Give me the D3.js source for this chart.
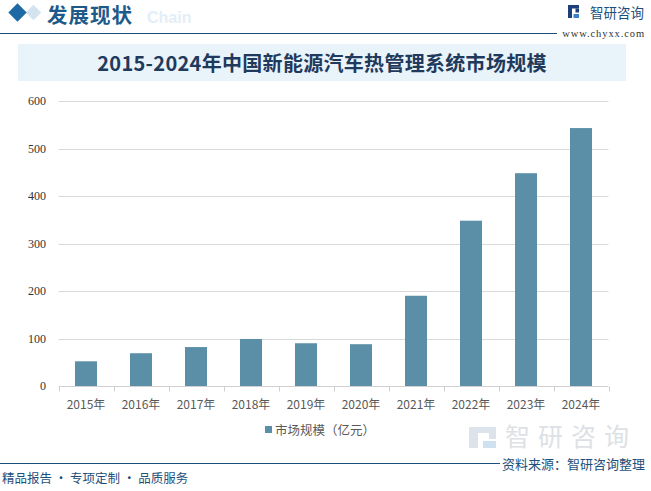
<!DOCTYPE html>
<html><head><meta charset="utf-8">
<script src="https://cdn.jsdelivr.net/npm/d3@7/dist/d3.min.js"></script>
<style>
html,body{margin:0;padding:0;background:#fff;}
svg{display:block;}
</style></head>
<body>
<svg id="c" width="651" height="491"></svg>
<script>
const categories = ["2015年","2016年","2017年","2018年","2019年","2020年","2021年","2022年","2023年","2024年"];
const values = [52, 69, 82, 99, 90, 88, 190, 348, 448, 543];
const yTicks = [0, 100, 200, 300, 400, 500, 600];
const seriesName = "市场规模（亿元）";
const chartTitle = "2015-2024年中国新能源汽车热管理系统市场规模";

const svg = d3.select("#c");
const sans = "'Noto Sans CJK SC','Microsoft YaHei',sans-serif";

// header
svg.append("rect").attr("x", 28).attr("y", 7).attr("width", 11).attr("height", 11)
  .attr("transform", "rotate(45 33.5 12.5)").attr("fill", "#d3e4f0");
svg.append("rect").attr("x", 11).attr("y", 6).attr("width", 13).attr("height", 13)
  .attr("transform", "rotate(45 17.5 12.5)").attr("fill", "#1d6aa5");
svg.append("text").attr("x", 147).attr("y", 23).text("Chain")
  .attr("font-family", "'Liberation Sans',Arial,sans-serif").attr("font-weight", "bold")
  .attr("font-size", 16).attr("fill", "#e3eef7");
svg.append("text").attr("x", 47).attr("y", 22.5).text("发展现状")
  .attr("font-family", sans).attr("font-weight", "bold").attr("font-size", 20.5).attr("letter-spacing", 1).attr("fill", "#1d5a8a");
svg.append("line").attr("x1", 0).attr("x2", 557).attr("y1", 33.5).attr("y2", 33.5)
  .attr("stroke", "#1d4f7a").attr("stroke-width", 1.2);
// logo
const lg = svg.append("g").attr("transform", "translate(568,5)");
lg.append("rect").attr("x", 0).attr("y", 0).attr("width", 4).attr("height", 13).attr("fill", "#1d3f7a");
lg.append("rect").attr("x", 4).attr("y", 0).attr("width", 7).attr("height", 3.5).attr("fill", "#1d3f7a");
lg.append("rect").attr("x", 7.5).attr("y", 3.5).attr("width", 3.5).attr("height", 4).attr("fill", "#1d3f7a");
lg.append("rect").attr("x", 5.5).attr("y", 9).attr("width", 5.5).attr("height", 4).attr("fill", "#3b82c4");
svg.append("text").attr("x", 590).attr("y", 18).text("智研咨询")
  .attr("font-family", sans).attr("font-size", 13.5).attr("fill", "#1d4f7a");
svg.append("text").attr("x", 645).attr("y", 37).attr("text-anchor", "end").text("www.chyxx.com")
  .attr("font-family", "'Liberation Serif',serif").attr("font-size", 10.5).attr("letter-spacing", 0.9).attr("fill", "#333");

// title box
svg.append("rect").attr("x", 18).attr("y", 44).attr("width", 608).attr("height", 37).attr("fill", "#e9f3fa");
svg.append("text").attr("x", 322).attr("y", 70.5).attr("text-anchor", "middle").text(chartTitle)
  .attr("font-family", "'Noto Sans CJK SC',serif").attr("font-weight", "bold")
  .attr("font-size", 20).attr("letter-spacing", 0.3).attr("fill", "#1f3a5c");

// chart
const x = d3.scaleBand().domain(categories).range([58.5, 608.5]).paddingInner(0.6).paddingOuter(0.3);
const y = d3.scaleLinear().domain([0, 600]).range([386, 101]);

svg.append("g").selectAll("line").data(yTicks.filter(d => d > 0)).join("line")
  .attr("x1", 58.5).attr("x2", 608.5).attr("y1", d => Math.round(y(d)) + 0.5).attr("y2", d => Math.round(y(d)) + 0.5)
  .attr("stroke", "#d9d9d9").attr("stroke-width", 1);

svg.append("g").selectAll("text").data(yTicks).join("text")
  .attr("x", 46).attr("y", d => y(d) + 4).attr("text-anchor", "end").text(d => d)
  .attr("font-family", "'Liberation Serif','Times New Roman',serif").attr("font-size", 12).attr("fill", "#333");

svg.append("g").selectAll("rect").data(values).join("rect")
  .attr("x", (d, i) => x(categories[i])).attr("width", x.bandwidth())
  .attr("y", d => y(d)).attr("height", d => y(0) - y(d)).attr("fill", "#5b8fa8");

const gx = svg.append("g").attr("transform", "translate(0,386.5)");
gx.append("line").attr("x1", 58.5).attr("x2", 608.5).attr("stroke", "#d0d0d0");
const step = x.step();
gx.selectAll("line.t").data(d3.range(categories.length + 1)).join("line").attr("class", "t")
  .attr("x1", i => Math.round(58.5 + i * step) + 0.5).attr("x2", i => Math.round(58.5 + i * step) + 0.5)
  .attr("y1", 0).attr("y2", 5).attr("stroke", "#d0d0d0");
gx.selectAll("text").data(categories).join("text")
  .attr("x", d => x(d) + x.bandwidth() / 2).attr("y", 22).attr("text-anchor", "middle").text(d => d)
  .attr("font-family", sans).attr("font-size", 12).attr("fill", "#595959");

// legend
svg.append("rect").attr("x", 265).attr("y", 426).attr("width", 7).attr("height", 7).attr("fill", "#5b8fa8");
svg.append("text").attr("x", 275).attr("y", 435).text(seriesName)
  .attr("font-family", sans).attr("font-size", 12.5).attr("fill", "#595959");

// footer watermark logo
const wl = svg.append("g").attr("transform", "translate(469,427)");
wl.append("rect").attr("x", 0).attr("y", 0).attr("width", 9).attr("height", 21).attr("fill", "#dde3ea");
wl.append("rect").attr("x", 9).attr("y", 0).attr("width", 18).attr("height", 6).attr("fill", "#dde3ea");
wl.append("rect").attr("x", 20).attr("y", 6).attr("width", 7).attr("height", 6).attr("fill", "#dde3ea");
wl.append("rect").attr("x", 14).attr("y", 14).attr("width", 13).attr("height", 7).attr("fill", "#cfe0ef");
svg.append("text").attr("x", 505).attr("y", 446).text("智研咨询")
  .attr("font-family", sans).attr("font-size", 25).attr("letter-spacing", 8).attr("fill", "#dde1e5");
svg.append("line").attr("x1", 0).attr("x2", 500).attr("y1", 463.5).attr("y2", 463.5)
  .attr("stroke", "#1d4f7a").attr("stroke-width", 1.2);
svg.append("text").attr("x", 645).attr("y", 469).attr("text-anchor", "end").text("资料来源：智研咨询整理")
  .attr("font-family", sans).attr("font-size", 13).attr("fill", "#1d4f7a");
svg.append("text").attr("x", 2).attr("y", 483).text("精品报告 · 专项定制 · 品质服务")
  .attr("font-family", sans).attr("font-size", 12.5).attr("fill", "#1d4f7a");
</script>
</body></html>
